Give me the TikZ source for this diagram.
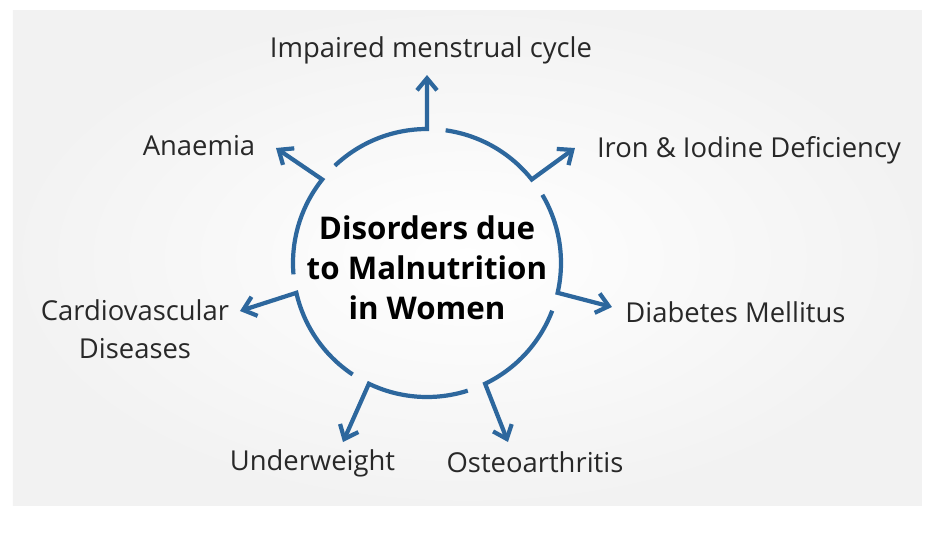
\documentclass[tikz,border=0pt]{standalone}
\usepackage{fontspec}
\setmainfont{Open Sans}
\usetikzlibrary{arrows.meta}
\definecolor{arrowblue}{RGB}{45,103,157}
\definecolor{labelgray}{RGB}{40,40,40}
\begin{document}
\begin{tikzpicture}[>={Straight Barb[length=2.4mm,width=4mm]},
    flow/.style={draw=arrowblue, line width=2.4pt, ->},
    lbl/.style={anchor=base, text=labelgray, font=\fontsize{15.6}{21.6}\selectfont},
    title/.style={align=center, font=\bfseries\fontsize{17.8}{22.8}\selectfont}]
    \useasboundingbox (-8.54, -5.58) rectangle (9.98, 5.26);
    \fill[gray!10] (-8.28, -4.84) rectangle (9.9, 5.06);
    \shade[inner color=white, outer color=gray!10] (-8.28, -4.84) rectangle (9.9, 5.06);

    % ends of the arrows
    \coordinate (tcycle) at (0, 3.76);
    \coordinate (tiron) at (2.96, 2.30);
    \coordinate (tdiab) at (3.70, -0.88);
    \coordinate (tosteo) at (1.62, -3.58);
    \coordinate (tunder) at (-1.68, -3.58);
    \coordinate (tcardio) at (-3.74, -0.96);
    \coordinate (tanaemia) at (-3.02, 2.30);

    \draw[flow] (133.43:2.68) arc [start angle=133.43, end angle=90, radius=2.68] -- (tcycle);
    \draw[flow] (82:2.68) arc [start angle=82, end angle=38.57, radius=2.68] -- (tiron);
    \draw[flow] (30.57:2.68) arc [start angle=30.57, end angle=-12.86, radius=2.68] -- (tdiab);
    \draw[flow] (-20.86:2.68) arc [start angle=-20.86, end angle=-64.29, radius=2.68] -- (tosteo);
    \draw[flow] (-72.29:2.68) arc [start angle=-72.29, end angle=-115.71, radius=2.68] -- (tunder);
    \draw[flow] (-123.71:2.68) arc [start angle=-123.71, end angle=-167.14, radius=2.68] -- (tcardio);
    \draw[flow] (-175.14:2.68) arc [start angle=-175.14, end angle=-218.57, radius=2.68] -- (tanaemia);

    \node[title] (disorders) at (0, -0.1) {Disorders due\\to Malnutrition\\in Women};

    \node[lbl] (cycle) at (0.08, 4.12) {Impaired menstrual cycle};
    \node[lbl] (iron) at (6.44, 2.12) {Iron \& Iodine Deficiency};
    \node[lbl] (diab) at (6.17, -1.18) {Diabetes Mellitus};
    \node[lbl] (osteo) at (2.16, -4.18) {Osteoarthritis};
    \node[lbl] (under) at (-2.29, -4.14) {Underweight};
    \node[lbl, anchor=center, align=center] (cardio) at (-5.84, -1.33) {Cardiovascular\\Diseases};
    \node[lbl] (anaemia) at (-4.56, 2.16) {Anaemia};
  \end{tikzpicture}
\end{document}
